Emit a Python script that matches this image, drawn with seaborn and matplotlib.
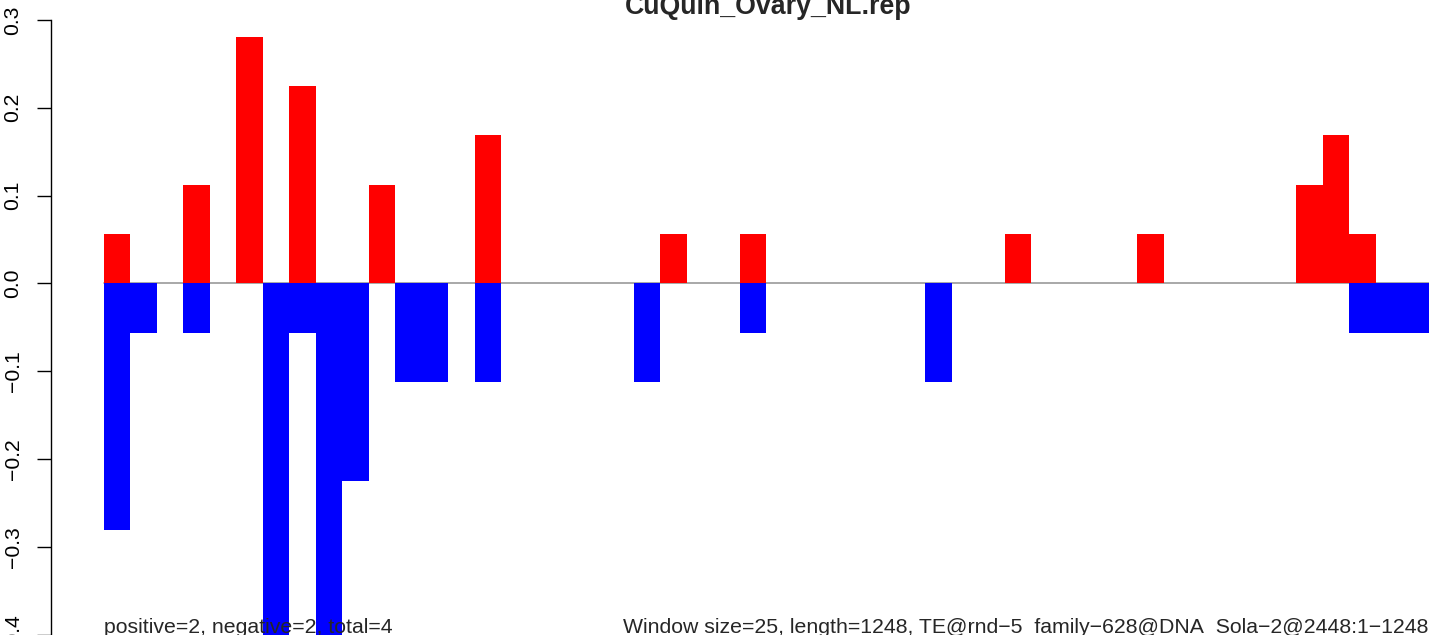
import matplotlib
matplotlib.use("Agg")
import matplotlib.pyplot as plt
import seaborn as sns
import numpy as np
import pandas as pd

# ---- data (50 windows of size 25 over length 1248) ----
n_windows = 50
pos_index = [0, 3, 5, 7, 10, 14, 21, 24, 34, 39, 45, 46, 47]
pos_vals = [0.0562, 0.1124, 0.2809, 0.2247, 0.1124, 0.1685, 0.0562, 0.0562,
            0.0562, 0.0562, 0.1124, 0.1685, 0.0562]
neg_index = [0, 1, 3, 6, 7, 8, 9, 11, 12, 14, 20, 24, 31, 47, 48, 49]
neg_vals = [-0.2809, -0.0562, -0.0562, -0.4494, -0.0562, -0.4494, -0.2247,
            -0.1124, -0.1124, -0.1124, -0.1124, -0.0562, -0.1124,
            -0.0562, -0.0562, -0.0562]
y_ticks = [-0.4, -0.3, -0.2, -0.1, 0.0, 0.1, 0.2, 0.3]
y_tick_labels = ["\u22120.4", "\u22120.3", "\u22120.2", "\u22120.1", "0.0", "0.1", "0.2", "0.3"]
title = "CuQuin_Ovary_NL.rep"
left_note = "positive=2, negative=2, total=4"
right_note = "Window size=25, length=1248, TE@rnd\u22125_family\u2212628@DNA_Sola\u22122@2448:1\u22121248"

pos = np.zeros(n_windows)
pos[pos_index] = pos_vals
neg = np.zeros(n_windows)
neg[neg_index] = neg_vals
df = pd.DataFrame({"win": np.arange(n_windows), "pos": pos, "neg": neg})

sns.set_style("white")
plt.rcParams["font.family"] = ["Liberation Sans", "DejaVu Sans"]

W, H = 1429, 635
fig = plt.figure(figsize=(W / 100, H / 100), dpi=100)
ax = fig.add_axes([0, 0, 1, 1])
ax.set_facecolor("none")

# zero line
ax.plot([-0.5, n_windows - 0.5], [0, 0], color="#999999", lw=1.2, zorder=1)

sns.barplot(data=df, x="win", y="pos", color="#FF0000", width=1.0,
            linewidth=0, saturation=1, ax=ax, zorder=2)
sns.barplot(data=df, x="win", y="neg", color="#0000FF", width=1.0,
            linewidth=0, saturation=1, ax=ax, zorder=2)

# pixel mapping: bar 0 left edge at px 104, 26.5 px per window
x0 = -0.5 - 104 / 26.5
ax.set_xlim(x0, n_windows - 0.5)
zero_px, px_per_unit = 285.7, 885.7
ax.set_ylim(-(H - zero_px) / px_per_unit, zero_px / px_per_unit)

for s in ["top", "right", "bottom"]:
    ax.spines[s].set_visible(False)
ax.spines["left"].set_position(("data", -0.5 - 0.04 * n_windows))
ax.spines["left"].set_bounds(-0.4, 0.3)
ax.spines["left"].set_color("black")
ax.spines["left"].set_linewidth(1.0)
ax.spines["left"].set_visible(True)

ax.set_xticks([])
ax.set_yticks(y_ticks)
ax.set_yticklabels(y_tick_labels, rotation=90, va="center", fontsize=15.2)
ax.tick_params(axis="y", direction="out", length=10, width=1.0, pad=10.5,
               left=True, colors="black")
ax.set_xlabel("")
ax.set_ylabel("")
for lab in ax.get_yticklabels():
    lab.set_clip_on(False)

fig.text(768 / W, 1 - 14 / H, title, ha="center", va="baseline",
         fontsize=19.3, fontweight="bold")
fig.text(104 / W, 2 / H, left_note, ha="left", va="baseline", fontsize=15.3)
fig.text(623 / W, 2 / H, right_note, ha="left", va="baseline", fontsize=15.3)

fig.savefig("out.png", dpi=100)
